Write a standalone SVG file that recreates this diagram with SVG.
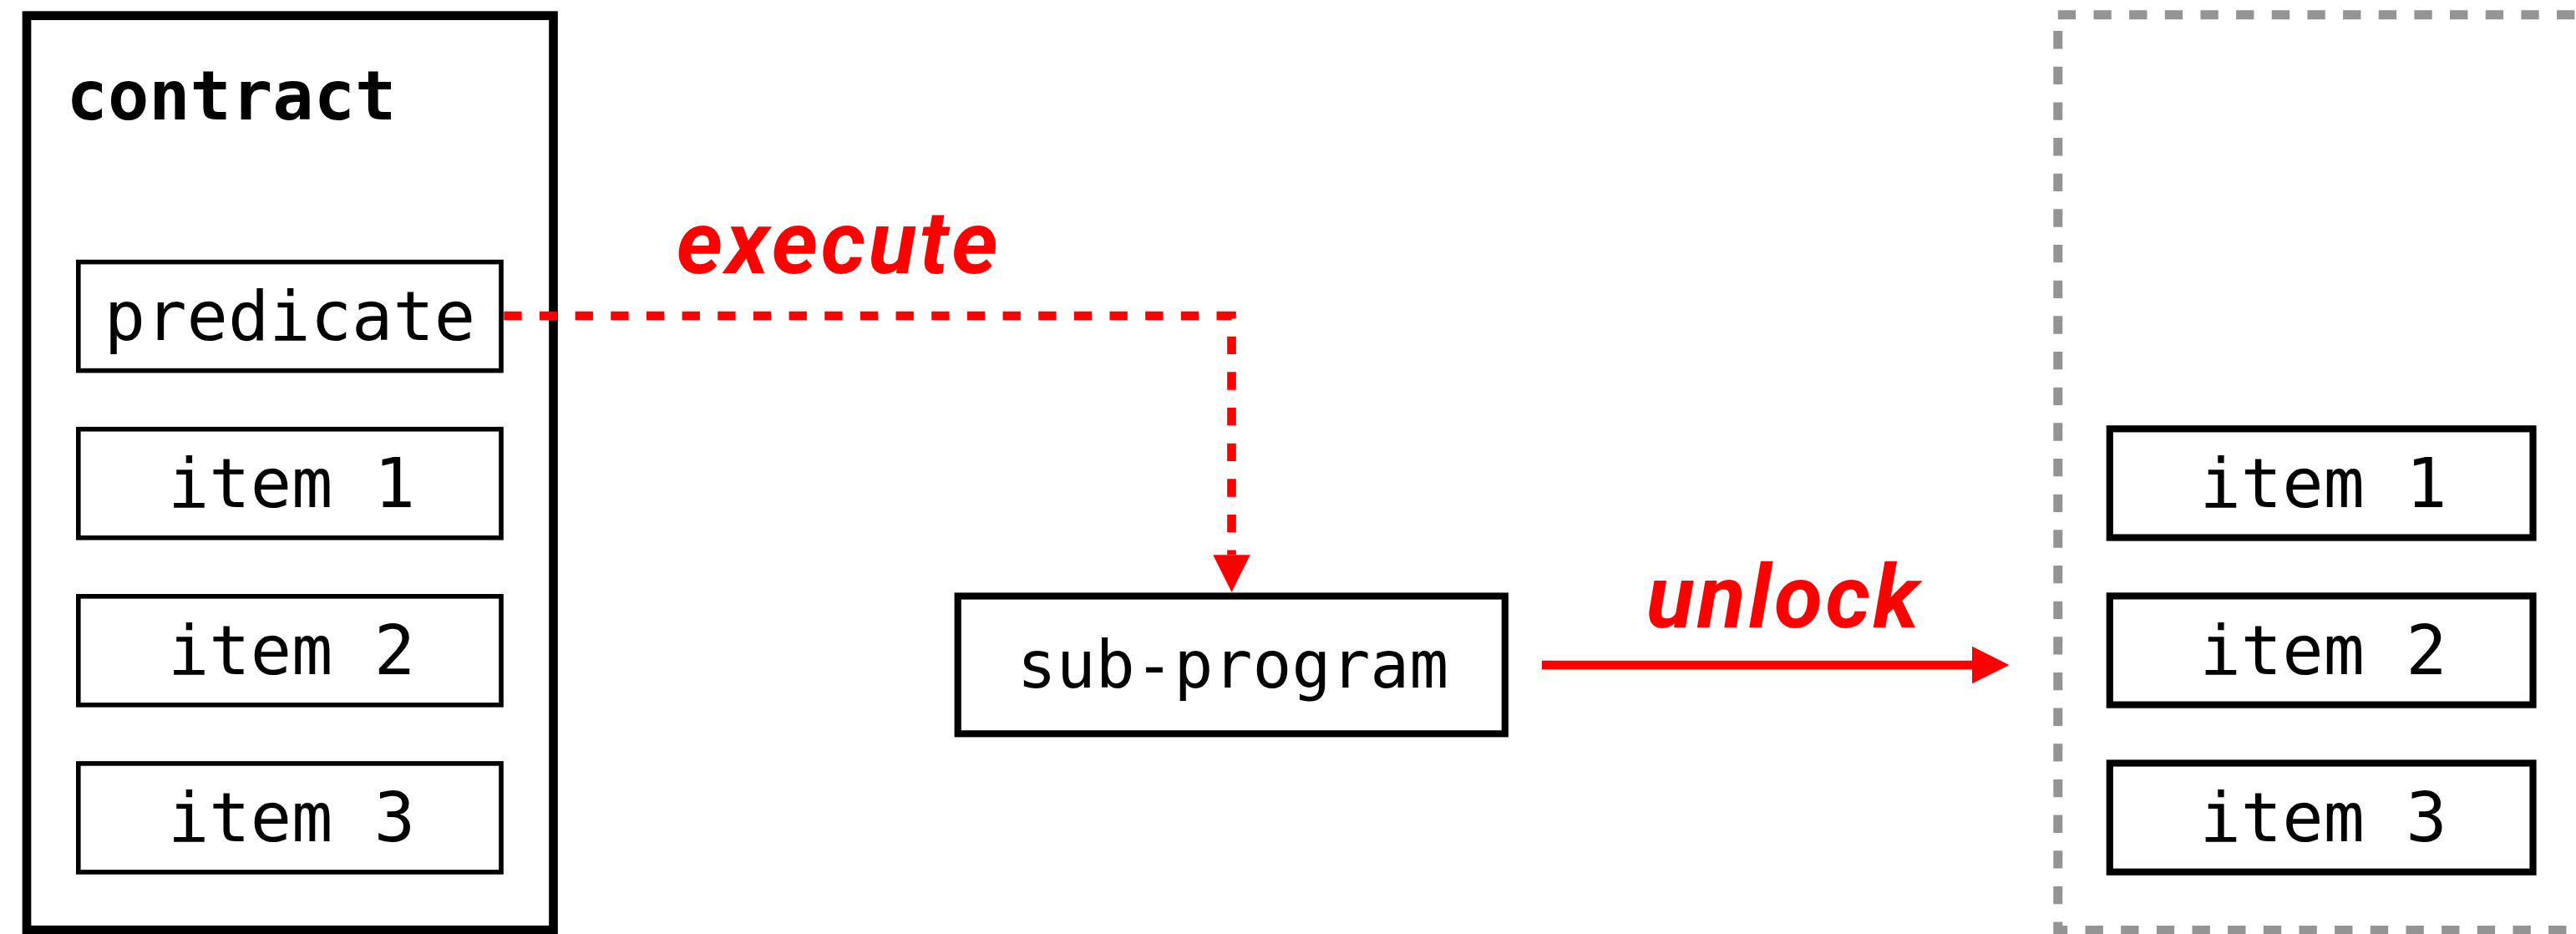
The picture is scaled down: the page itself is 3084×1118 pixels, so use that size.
<svg xmlns="http://www.w3.org/2000/svg" width="3084" height="1118" viewBox="0 0 3084 1118">
  <style>
    .frame { fill: #fff; stroke: #000; stroke-width: 10.7; }
    .slot { fill: #fff; stroke: #000; stroke-width: 5.6; }
    .slot-out { fill: #fff; stroke: #000; stroke-width: 8.2; }
    .prog { fill: #fff; stroke: #000; stroke-width: 8.2; }
    .ghost { fill: none; stroke: #949494; stroke-width: 11; stroke-dasharray: 21.33 21.33; }
    .mono { font-family: "DejaVu Sans Mono", "Liberation Mono", monospace; font-size: 82px; fill: #000; text-anchor: middle; }
    .title { font-weight: 700; }
    .lbl { font-family: Roboto, "Liberation Sans", sans-serif; font-style: italic; font-weight: 700; font-size: 106px; letter-spacing: 3.5px; fill: #f00; text-anchor: middle; }
    .flow { fill: none; stroke: #f00; stroke-width: 10.7; }
    .dashed { stroke-dasharray: 21.33 21.33; }
  </style>
  <defs>
    <marker id="head" markerUnits="userSpaceOnUse" viewBox="0 0 44.5 44.5" markerWidth="44.5" markerHeight="44.5" refX="0" refY="22.25" orient="auto">
      <path d="M0,0 L44.5,22.25 L0,44.5 Z" fill="#f00"/>
    </marker>
  </defs>

  <rect width="3084" height="1118" fill="#fff"/>

  <!-- contract container with its predicate and items -->
  <g id="contract">
    <rect class="frame" x="32" y="18.7" width="630.5" height="1094.5"/>
    <text class="mono title" x="277" y="142.7">contract</text>
  </g>
  <g id="predicate">
    <rect class="slot" x="93.8" y="313.6" width="506.2" height="130"/>
    <text class="mono" x="347" y="406.5">predicate</text>
  </g>
  <g id="item-1">
    <rect class="slot" x="93.8" y="513.7" width="506.2" height="130"/>
    <text class="mono" x="349" y="606.5">item 1</text>
  </g>
  <g id="item-2">
    <rect class="slot" x="93.8" y="713.8" width="506.2" height="130"/>
    <text class="mono" x="349" y="806.6">item 2</text>
  </g>
  <g id="item-3">
    <rect class="slot" x="93.8" y="913.9" width="506.2" height="130"/>
    <text class="mono" x="349" y="1006.7">item 3</text>
  </g>

  <!-- sub-program -->
  <g id="sub-program">
    <rect class="prog" x="1146.7" y="713.5" width="655.1" height="164.8"/>
    <text class="mono" x="1476" y="823.3" style="font-size:78px">sub-program</text>
  </g>

  <!-- unlocked output container (runs off the right edge) -->
  <g id="output">
    <rect class="ghost" x="2463.8" y="17.8" width="631" height="1095.7"/>
  </g>
  <g id="out-item-1">
    <rect class="slot-out" x="2525.8" y="513.3" width="506.7" height="130.2"/>
    <text class="mono" x="2781.5" y="606.7">item 1</text>
  </g>
  <g id="out-item-2">
    <rect class="slot-out" x="2525.8" y="713.4" width="506.7" height="130.2"/>
    <text class="mono" x="2781.5" y="806.8">item 2</text>
  </g>
  <g id="out-item-3">
    <rect class="slot-out" x="2525.8" y="913.5" width="506.7" height="130.2"/>
    <text class="mono" x="2781.5" y="1006.9">item 3</text>
  </g>

  <!-- connectors -->
  <g id="connectors">
    <path class="flow dashed" d="M603.3,378 H1474.5 V664.3" marker-end="url(#head)"/>
    <text class="lbl" x="1004" y="326.7">execute</text>
    <path class="flow" d="M1846,796 H2361" marker-end="url(#head)"/>
    <text class="lbl" x="2136" y="750.7">unlock</text>
  </g>
</svg>
